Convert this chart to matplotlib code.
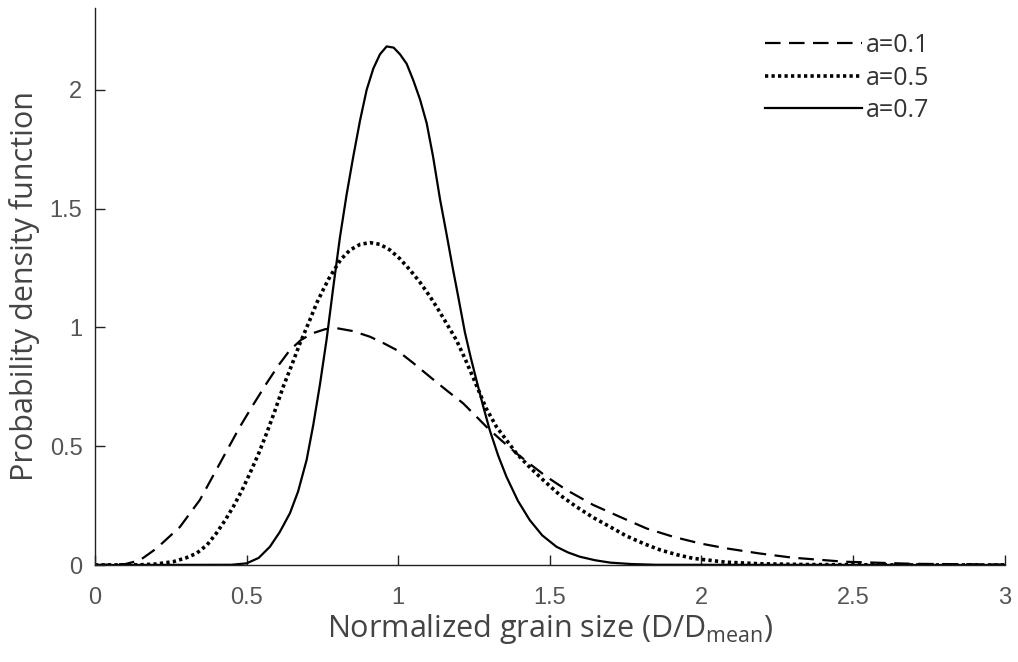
import numpy as np
import matplotlib
matplotlib.use("Agg")
import matplotlib.pyplot as plt

# DATOS

# a = 0.1 (discontinua)
x_a01 = [0.0, 0.10, 0.148, 0.203, 0.28, 0.346, 0.412, 0.478, 0.522, 0.566, 0.605,
         0.643, 0.68, 0.719, 0.76, 0.797, 0.85, 0.907, 0.95, 0.995, 1.05, 1.104,
         1.16, 1.214, 1.25, 1.291, 1.34, 1.39, 1.44, 1.489, 1.555, 1.643,
         1.731, 1.819, 1.907, 1.995, 2.083, 2.19, 2.30, 2.47, 2.70, 3.0]
y_a01 = [0.0, 0.004, 0.02, 0.07, 0.16, 0.274, 0.428, 0.582, 0.675, 0.765, 0.84,
         0.905, 0.948, 0.976, 0.993, 0.997, 0.985, 0.961, 0.935, 0.905, 0.85, 0.793,
         0.735, 0.681, 0.635, 0.582, 0.525, 0.47, 0.42, 0.372, 0.316, 0.253,
         0.203, 0.154, 0.119, 0.091, 0.07, 0.049, 0.031, 0.014, 0.005, 0.002]

# a = 0.5 (punteada)
x_a05 = [0.0, 0.15, 0.20, 0.258, 0.30, 0.335, 0.37, 0.40, 0.43, 0.456, 0.485,
         0.511, 0.54, 0.566, 0.595, 0.621, 0.65, 0.676, 0.705, 0.731, 0.755,
         0.775, 0.81, 0.841, 0.875, 0.907, 0.94, 0.973, 1.005, 1.039, 1.072,
         1.105, 1.13, 1.159, 1.192, 1.22, 1.247, 1.29, 1.324, 1.39, 1.435,
         1.478, 1.533, 1.588, 1.643, 1.70, 1.753, 1.81, 1.863, 1.92, 1.973,
         2.08, 2.20, 2.35, 2.6, 3.0]
y_a05 = [0.0, 0.001, 0.004, 0.014, 0.03, 0.049, 0.085, 0.133, 0.19, 0.245, 0.315,
         0.386, 0.47, 0.554, 0.655, 0.751, 0.845, 0.933, 1.02, 1.102, 1.165,
         1.214, 1.285, 1.326, 1.35, 1.357, 1.35, 1.326, 1.29, 1.242, 1.19,
         1.13, 1.08, 1.018, 0.947, 0.87, 0.79, 0.66, 0.582, 0.47, 0.41,
         0.358, 0.295, 0.245, 0.2, 0.16, 0.122, 0.09, 0.064, 0.043, 0.028,
         0.012, 0.005, 0.002, 0.0005, 0.0]

# a = 0.7 (continua)
x_a07 = [0.0, 0.45, 0.50, 0.54, 0.577, 0.61, 0.643, 0.67, 0.698, 0.72, 0.742,
         0.764, 0.786, 0.808, 0.83, 0.852, 0.874, 0.896, 0.918, 0.94, 0.962,
         0.985, 1.006, 1.028, 1.05, 1.072, 1.094, 1.115, 1.138, 1.16, 1.18,
         1.198, 1.22, 1.24, 1.258, 1.28, 1.302, 1.33, 1.357, 1.395, 1.434,
         1.475, 1.522, 1.56, 1.599, 1.65, 1.70, 1.77, 1.85, 3.0]
y_a07 = [0.0, 0.001, 0.007, 0.03, 0.077, 0.14, 0.218, 0.31, 0.442, 0.59, 0.76,
         0.95, 1.17, 1.38, 1.56, 1.72, 1.87, 2.0, 2.09, 2.15, 2.183,
         2.178, 2.15, 2.11, 2.04, 1.96, 1.86, 1.72, 1.54, 1.39, 1.25,
         1.13, 0.98, 0.87, 0.779, 0.67, 0.568, 0.46, 0.372, 0.27, 0.189,
         0.125, 0.077, 0.053, 0.035, 0.02, 0.01, 0.004, 0.001, 0.0]

etiquetas = ["a=0.1", "a=0.5", "a=0.7"]

# GRAFICA
fig = plt.figure(figsize=(10.18, 6.62), dpi=100)
ax = fig.add_axes([0.0933, 0.1465, 0.8935, 0.8415])

ax.plot(x_a01, y_a01, color="black", lw=1.6, linestyle=(0, (7, 3.8)), label=etiquetas[0])
ax.plot(x_a05, y_a05, color="black", lw=2.6, linestyle=(0, (0.9, 0.9)), label=etiquetas[1])
ax.plot(x_a07, y_a07, color="black", lw=1.6, linestyle="-", label=etiquetas[2])

ax.set_xlim(0, 3)
ax.set_ylim(0, 2.345)
ax.set_xticks([0, 0.5, 1, 1.5, 2, 2.5, 3])
ax.set_xticklabels(["0", "0.5", "1", "1.5", "2", "2.5", "3"])
ax.set_yticks([0, 0.5, 1, 1.5, 2])
ax.set_yticklabels(["0", "0.5", "1", "1.5", "2"])

for s in ["top", "right"]:
    ax.spines[s].set_visible(False)
for s in ["left", "bottom"]:
    ax.spines[s].set_color("#222222")
    ax.spines[s].set_linewidth(1.0)

ax.tick_params(direction="in", length=7, width=1, colors="#222222",
               labelcolor="#555555", labelsize=17)
ax.tick_params(axis="x", pad=16)
ax.tick_params(axis="y", pad=9)
for lab in ax.get_xticklabels() + ax.get_yticklabels():
    lab.set_family("Liberation Sans")

ax.set_xlabel(r"Normalized grain size (D/D$_{\mathregular{mean}}$)",
              fontsize=22, family="Open Sans", color="#444444", labelpad=2)
ax.set_ylabel("Probability density function",
              fontsize=22, family="Open Sans", color="#444444")
ax.yaxis.set_label_coords(-0.06, 0.5)

leg = ax.legend(loc="upper right", frameon=False, handlelength=3.9,
                handletextpad=0.15, labelspacing=0.3,
                prop={"family": "Open Sans", "size": 18},
                bbox_to_anchor=(0.942, 0.995))
for t in leg.get_texts():
    t.set_color("#333333")

fig.savefig("out.png", dpi=100)
